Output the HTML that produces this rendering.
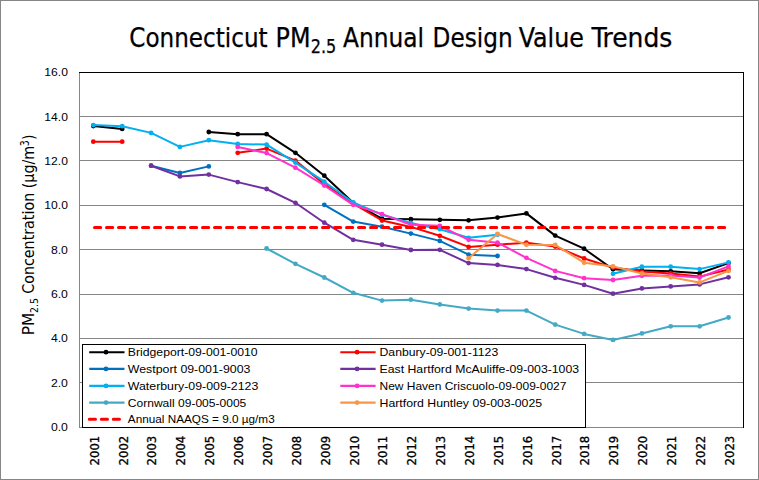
<!DOCTYPE html>
<html lang="en"><head><meta charset="utf-8"><title>Connecticut PM2.5 Annual Design Value Trends</title>
<style>html,body{margin:0;padding:0;background:#fff;}svg{display:block;}text{font-family:"Liberation Sans", Arial, sans-serif;fill:#000;}.t text{font-family:"DejaVu Sans Condensed", "Liberation Sans", sans-serif;}</style></head><body>
<svg width="759" height="480" viewBox="0 0 759 480">
<rect x="0" y="0" width="759" height="480" fill="#ffffff"/>
<rect x="0.5" y="0.5" width="758" height="479" fill="none" stroke="#868686" stroke-width="1"/>
<g stroke="#868686" stroke-width="1" shape-rendering="crispEdges">
<line x1="79.5" y1="427.5" x2="743.5" y2="427.5"/>
<line x1="79.5" y1="382.5" x2="743.5" y2="382.5"/>
<line x1="79.5" y1="338.5" x2="743.5" y2="338.5"/>
<line x1="79.5" y1="294.5" x2="743.5" y2="294.5"/>
<line x1="79.5" y1="249.5" x2="743.5" y2="249.5"/>
<line x1="79.5" y1="205.5" x2="743.5" y2="205.5"/>
<line x1="79.5" y1="160.5" x2="743.5" y2="160.5"/>
<line x1="79.5" y1="116.5" x2="743.5" y2="116.5"/>
<line x1="79.5" y1="72.5" x2="79.5" y2="427.5"/>
</g>
<path d="M79.0 72.5H743.5V428.0" fill="none" stroke="#000" stroke-width="1" shape-rendering="crispEdges"/>
<g font-size="26.67" class="t" stroke="#000" stroke-width="0.25">
<text x="129.30" y="46.6" textLength="138.30" lengthAdjust="spacingAndGlyphs">Connecticut</text>
<text x="275.60" y="46.6" textLength="35.00" lengthAdjust="spacingAndGlyphs">PM</text>
<text x="310.80" y="52.5" font-size="19.5" textLength="25.50" lengthAdjust="spacingAndGlyphs">2.5</text>
<text x="343.00" y="46.6" textLength="81.00" lengthAdjust="spacingAndGlyphs">Annual</text>
<text x="432.60" y="46.6" textLength="80.00" lengthAdjust="spacingAndGlyphs">Design</text>
<text x="518.80" y="46.6" textLength="65.00" lengthAdjust="spacingAndGlyphs">Value</text>
<text x="591.40" y="46.6" textLength="81.00" lengthAdjust="spacingAndGlyphs">Trends</text>
</g>
<g font-size="11.6" text-anchor="end">
<text x="67.9" y="431.2" textLength="17.0" lengthAdjust="spacingAndGlyphs">0.0</text>
<text x="67.9" y="386.8" textLength="17.0" lengthAdjust="spacingAndGlyphs">2.0</text>
<text x="67.9" y="342.4" textLength="17.0" lengthAdjust="spacingAndGlyphs">4.0</text>
<text x="67.9" y="298.1" textLength="17.0" lengthAdjust="spacingAndGlyphs">6.0</text>
<text x="67.9" y="253.7" textLength="17.0" lengthAdjust="spacingAndGlyphs">8.0</text>
<text x="67.9" y="209.3" textLength="23.6" lengthAdjust="spacingAndGlyphs">10.0</text>
<text x="67.9" y="165.0" textLength="23.6" lengthAdjust="spacingAndGlyphs">12.0</text>
<text x="67.9" y="120.6" textLength="23.6" lengthAdjust="spacingAndGlyphs">14.0</text>
<text x="67.9" y="76.2" textLength="23.6" lengthAdjust="spacingAndGlyphs">16.0</text>
</g>
<g font-size="12.5" class="t" stroke="#000" stroke-width="0.3">
<text transform="translate(98.6 465.4) rotate(-90)" textLength="29.6" lengthAdjust="spacingAndGlyphs">2001</text>
<text transform="translate(127.5 465.4) rotate(-90)" textLength="29.6" lengthAdjust="spacingAndGlyphs">2002</text>
<text transform="translate(156.4 465.4) rotate(-90)" textLength="29.6" lengthAdjust="spacingAndGlyphs">2003</text>
<text transform="translate(185.2 465.4) rotate(-90)" textLength="29.6" lengthAdjust="spacingAndGlyphs">2004</text>
<text transform="translate(214.1 465.4) rotate(-90)" textLength="29.6" lengthAdjust="spacingAndGlyphs">2005</text>
<text transform="translate(243.0 465.4) rotate(-90)" textLength="29.6" lengthAdjust="spacingAndGlyphs">2006</text>
<text transform="translate(271.9 465.4) rotate(-90)" textLength="29.6" lengthAdjust="spacingAndGlyphs">2007</text>
<text transform="translate(300.7 465.4) rotate(-90)" textLength="29.6" lengthAdjust="spacingAndGlyphs">2008</text>
<text transform="translate(329.6 465.4) rotate(-90)" textLength="29.6" lengthAdjust="spacingAndGlyphs">2009</text>
<text transform="translate(358.5 465.4) rotate(-90)" textLength="29.6" lengthAdjust="spacingAndGlyphs">2010</text>
<text transform="translate(387.3 465.4) rotate(-90)" textLength="29.6" lengthAdjust="spacingAndGlyphs">2011</text>
<text transform="translate(416.2 465.4) rotate(-90)" textLength="29.6" lengthAdjust="spacingAndGlyphs">2012</text>
<text transform="translate(445.1 465.4) rotate(-90)" textLength="29.6" lengthAdjust="spacingAndGlyphs">2013</text>
<text transform="translate(473.9 465.4) rotate(-90)" textLength="29.6" lengthAdjust="spacingAndGlyphs">2014</text>
<text transform="translate(502.8 465.4) rotate(-90)" textLength="29.6" lengthAdjust="spacingAndGlyphs">2015</text>
<text transform="translate(531.7 465.4) rotate(-90)" textLength="29.6" lengthAdjust="spacingAndGlyphs">2016</text>
<text transform="translate(560.5 465.4) rotate(-90)" textLength="29.6" lengthAdjust="spacingAndGlyphs">2017</text>
<text transform="translate(589.4 465.4) rotate(-90)" textLength="29.6" lengthAdjust="spacingAndGlyphs">2018</text>
<text transform="translate(618.3 465.4) rotate(-90)" textLength="29.6" lengthAdjust="spacingAndGlyphs">2019</text>
<text transform="translate(647.2 465.4) rotate(-90)" textLength="29.6" lengthAdjust="spacingAndGlyphs">2020</text>
<text transform="translate(676.0 465.4) rotate(-90)" textLength="29.6" lengthAdjust="spacingAndGlyphs">2021</text>
<text transform="translate(704.9 465.4) rotate(-90)" textLength="29.6" lengthAdjust="spacingAndGlyphs">2022</text>
<text transform="translate(733.8 465.4) rotate(-90)" textLength="29.6" lengthAdjust="spacingAndGlyphs">2023</text>
</g>
<g transform="translate(34.2 334.2) rotate(-90)" font-size="16" class="t">
<text x="-1" y="0" textLength="22.5" lengthAdjust="spacingAndGlyphs">PM</text>
<text x="21.3" y="4.1" font-size="11.3" textLength="14.9" lengthAdjust="spacingAndGlyphs">2.5</text>
<text x="40.4" y="0" textLength="148" lengthAdjust="spacingAndGlyphs">Concentration (µg/m</text>
<text x="187.9" y="-5" font-size="11.5" textLength="6" lengthAdjust="spacingAndGlyphs">3</text>
<text x="194.3" y="0" textLength="5.5" lengthAdjust="spacingAndGlyphs">)</text>
</g>
<path d="M93.3 126.0 L122.2 128.9 M208.8 132.0 L237.7 134.2 L266.6 134.2 L295.4 152.8 L324.3 175.7 L353.2 202.8 L382.0 218.7 L410.9 219.2 L439.8 219.8 L468.6 220.3 L497.5 217.6 L526.4 213.4 L555.2 235.6 L584.1 248.7 L613.0 269.3 L641.9 270.4 L670.7 271.3 L699.6 273.3 L728.5 263.1" fill="none" stroke="#000000" stroke-width="2.00" stroke-linejoin="round" stroke-linecap="round"/>
<g fill="#000000"><circle cx="93.3" cy="126.0" r="2.40"/><circle cx="122.2" cy="128.9" r="2.40"/><circle cx="208.8" cy="132.0" r="2.40"/><circle cx="237.7" cy="134.2" r="2.40"/><circle cx="266.6" cy="134.2" r="2.40"/><circle cx="295.4" cy="152.8" r="2.40"/><circle cx="324.3" cy="175.7" r="2.40"/><circle cx="353.2" cy="202.8" r="2.40"/><circle cx="382.0" cy="218.7" r="2.40"/><circle cx="410.9" cy="219.2" r="2.40"/><circle cx="439.8" cy="219.8" r="2.40"/><circle cx="468.6" cy="220.3" r="2.40"/><circle cx="497.5" cy="217.6" r="2.40"/><circle cx="526.4" cy="213.4" r="2.40"/><circle cx="555.2" cy="235.6" r="2.40"/><circle cx="584.1" cy="248.7" r="2.40"/><circle cx="613.0" cy="269.3" r="2.40"/><circle cx="641.9" cy="270.4" r="2.40"/><circle cx="670.7" cy="271.3" r="2.40"/><circle cx="699.6" cy="273.3" r="2.40"/><circle cx="728.5" cy="263.1" r="2.40"/></g>
<path d="M93.3 141.7 L122.2 141.7 M237.7 152.8 L266.6 148.6 L295.4 160.6 L324.3 184.1 L353.2 203.7 L382.0 220.5 L410.9 226.9 L439.8 235.8 L468.6 246.9 L497.5 244.7 L526.4 242.7 L555.2 246.5 L584.1 258.5 L613.0 267.6 L641.9 271.5 L670.7 273.5 L699.6 276.6 L728.5 269.5" fill="none" stroke="#FF0000" stroke-width="2.00" stroke-linejoin="round" stroke-linecap="round"/>
<g fill="#FF0000"><circle cx="93.3" cy="141.7" r="2.40"/><circle cx="122.2" cy="141.7" r="2.40"/><circle cx="237.7" cy="152.8" r="2.40"/><circle cx="266.6" cy="148.6" r="2.40"/><circle cx="295.4" cy="160.6" r="2.40"/><circle cx="324.3" cy="184.1" r="2.40"/><circle cx="353.2" cy="203.7" r="2.40"/><circle cx="382.0" cy="220.5" r="2.40"/><circle cx="410.9" cy="226.9" r="2.40"/><circle cx="439.8" cy="235.8" r="2.40"/><circle cx="468.6" cy="246.9" r="2.40"/><circle cx="497.5" cy="244.7" r="2.40"/><circle cx="526.4" cy="242.7" r="2.40"/><circle cx="555.2" cy="246.5" r="2.40"/><circle cx="584.1" cy="258.5" r="2.40"/><circle cx="613.0" cy="267.6" r="2.40"/><circle cx="641.9" cy="271.5" r="2.40"/><circle cx="670.7" cy="273.5" r="2.40"/><circle cx="699.6" cy="276.6" r="2.40"/><circle cx="728.5" cy="269.5" r="2.40"/></g>
<path d="M151.1 165.7 L179.9 173.0 L208.8 166.4 M324.3 204.8 L353.2 221.6 L382.0 226.7 L410.9 233.6 L439.8 240.9 L468.6 254.7 L497.5 256.0" fill="none" stroke="#0070C0" stroke-width="2.00" stroke-linejoin="round" stroke-linecap="round"/>
<g fill="#0070C0"><circle cx="151.1" cy="165.7" r="2.40"/><circle cx="179.9" cy="173.0" r="2.40"/><circle cx="208.8" cy="166.4" r="2.40"/><circle cx="324.3" cy="204.8" r="2.40"/><circle cx="353.2" cy="221.6" r="2.40"/><circle cx="382.0" cy="226.7" r="2.40"/><circle cx="410.9" cy="233.6" r="2.40"/><circle cx="439.8" cy="240.9" r="2.40"/><circle cx="468.6" cy="254.7" r="2.40"/><circle cx="497.5" cy="256.0" r="2.40"/></g>
<path d="M151.1 165.7 L179.9 176.4 L208.8 174.6 L237.7 182.1 L266.6 189.0 L295.4 202.8 L324.3 222.7 L353.2 239.8 L382.0 244.7 L410.9 250.0 L439.8 249.8 L468.6 263.1 L497.5 264.9 L526.4 269.1 L555.2 277.8 L584.1 284.9 L613.0 293.7 L641.9 288.4 L670.7 286.4 L699.6 284.4 L728.5 277.3" fill="none" stroke="#7030A0" stroke-width="2.00" stroke-linejoin="round" stroke-linecap="round"/>
<g fill="#7030A0"><circle cx="151.1" cy="165.7" r="2.40"/><circle cx="179.9" cy="176.4" r="2.40"/><circle cx="208.8" cy="174.6" r="2.40"/><circle cx="237.7" cy="182.1" r="2.40"/><circle cx="266.6" cy="189.0" r="2.40"/><circle cx="295.4" cy="202.8" r="2.40"/><circle cx="324.3" cy="222.7" r="2.40"/><circle cx="353.2" cy="239.8" r="2.40"/><circle cx="382.0" cy="244.7" r="2.40"/><circle cx="410.9" cy="250.0" r="2.40"/><circle cx="439.8" cy="249.8" r="2.40"/><circle cx="468.6" cy="263.1" r="2.40"/><circle cx="497.5" cy="264.9" r="2.40"/><circle cx="526.4" cy="269.1" r="2.40"/><circle cx="555.2" cy="277.8" r="2.40"/><circle cx="584.1" cy="284.9" r="2.40"/><circle cx="613.0" cy="293.7" r="2.40"/><circle cx="641.9" cy="288.4" r="2.40"/><circle cx="670.7" cy="286.4" r="2.40"/><circle cx="699.6" cy="284.4" r="2.40"/><circle cx="728.5" cy="277.3" r="2.40"/></g>
<path d="M93.3 125.1 L122.2 126.2 L151.1 132.9 L179.9 146.9 L208.8 140.2 L237.7 144.0 L266.6 144.6 L295.4 162.6 L324.3 181.7 L353.2 202.5 L382.0 214.7 L410.9 223.0 L439.8 229.2 L468.6 237.8 L497.5 234.7 M613.0 273.8 L641.9 266.7 L670.7 266.7 L699.6 269.1 L728.5 262.4" fill="none" stroke="#00B0F0" stroke-width="2.00" stroke-linejoin="round" stroke-linecap="round"/>
<g fill="#00B0F0"><circle cx="93.3" cy="125.1" r="2.40"/><circle cx="122.2" cy="126.2" r="2.40"/><circle cx="151.1" cy="132.9" r="2.40"/><circle cx="179.9" cy="146.9" r="2.40"/><circle cx="208.8" cy="140.2" r="2.40"/><circle cx="237.7" cy="144.0" r="2.40"/><circle cx="266.6" cy="144.6" r="2.40"/><circle cx="295.4" cy="162.6" r="2.40"/><circle cx="324.3" cy="181.7" r="2.40"/><circle cx="353.2" cy="202.5" r="2.40"/><circle cx="382.0" cy="214.7" r="2.40"/><circle cx="410.9" cy="223.0" r="2.40"/><circle cx="439.8" cy="229.2" r="2.40"/><circle cx="468.6" cy="237.8" r="2.40"/><circle cx="497.5" cy="234.7" r="2.40"/><circle cx="613.0" cy="273.8" r="2.40"/><circle cx="641.9" cy="266.7" r="2.40"/><circle cx="670.7" cy="266.7" r="2.40"/><circle cx="699.6" cy="269.1" r="2.40"/><circle cx="728.5" cy="262.4" r="2.40"/></g>
<path d="M237.7 146.9 L266.6 153.1 L295.4 167.7 L324.3 185.5 L353.2 204.8 L382.0 214.1 L410.9 224.7 L439.8 225.8 L468.6 239.8 L497.5 242.7 L526.4 257.8 L555.2 270.9 L584.1 278.2 L613.0 280.0 L641.9 275.8 L670.7 275.5 L699.6 277.5 L728.5 266.4" fill="none" stroke="#FF33CC" stroke-width="2.00" stroke-linejoin="round" stroke-linecap="round"/>
<g fill="#FF33CC"><circle cx="237.7" cy="146.9" r="2.40"/><circle cx="266.6" cy="153.1" r="2.40"/><circle cx="295.4" cy="167.7" r="2.40"/><circle cx="324.3" cy="185.5" r="2.40"/><circle cx="353.2" cy="204.8" r="2.40"/><circle cx="382.0" cy="214.1" r="2.40"/><circle cx="410.9" cy="224.7" r="2.40"/><circle cx="439.8" cy="225.8" r="2.40"/><circle cx="468.6" cy="239.8" r="2.40"/><circle cx="497.5" cy="242.7" r="2.40"/><circle cx="526.4" cy="257.8" r="2.40"/><circle cx="555.2" cy="270.9" r="2.40"/><circle cx="584.1" cy="278.2" r="2.40"/><circle cx="613.0" cy="280.0" r="2.40"/><circle cx="641.9" cy="275.8" r="2.40"/><circle cx="670.7" cy="275.5" r="2.40"/><circle cx="699.6" cy="277.5" r="2.40"/><circle cx="728.5" cy="266.4" r="2.40"/></g>
<path d="M266.6 248.5 L295.4 263.8 L324.3 277.5 L353.2 292.8 L382.0 300.6 L410.9 299.7 L439.8 304.4 L468.6 308.6 L497.5 310.6 L526.4 310.6 L555.2 324.6 L584.1 333.9 L613.0 339.9 L641.9 333.4 L670.7 326.3 L699.6 326.3 L728.5 317.5" fill="none" stroke="#43A9C5" stroke-width="2.00" stroke-linejoin="round" stroke-linecap="round"/>
<g fill="#43A9C5"><circle cx="266.6" cy="248.5" r="2.40"/><circle cx="295.4" cy="263.8" r="2.40"/><circle cx="324.3" cy="277.5" r="2.40"/><circle cx="353.2" cy="292.8" r="2.40"/><circle cx="382.0" cy="300.6" r="2.40"/><circle cx="410.9" cy="299.7" r="2.40"/><circle cx="439.8" cy="304.4" r="2.40"/><circle cx="468.6" cy="308.6" r="2.40"/><circle cx="497.5" cy="310.6" r="2.40"/><circle cx="526.4" cy="310.6" r="2.40"/><circle cx="555.2" cy="324.6" r="2.40"/><circle cx="584.1" cy="333.9" r="2.40"/><circle cx="613.0" cy="339.9" r="2.40"/><circle cx="641.9" cy="333.4" r="2.40"/><circle cx="670.7" cy="326.3" r="2.40"/><circle cx="699.6" cy="326.3" r="2.40"/><circle cx="728.5" cy="317.5" r="2.40"/></g>
<path d="M468.6 258.2 L497.5 234.0 L526.4 244.7 L555.2 244.9 L584.1 262.7 L613.0 266.4 L641.9 273.5 L670.7 277.3 L699.6 282.4 L728.5 270.9" fill="none" stroke="#F79646" stroke-width="2.00" stroke-linejoin="round" stroke-linecap="round"/>
<g fill="#F79646"><circle cx="468.6" cy="258.2" r="2.40"/><circle cx="497.5" cy="234.0" r="2.40"/><circle cx="526.4" cy="244.7" r="2.40"/><circle cx="555.2" cy="244.9" r="2.40"/><circle cx="584.1" cy="262.7" r="2.40"/><circle cx="613.0" cy="266.4" r="2.40"/><circle cx="641.9" cy="273.5" r="2.40"/><circle cx="670.7" cy="277.3" r="2.40"/><circle cx="699.6" cy="282.4" r="2.40"/><circle cx="728.5" cy="270.9" r="2.40"/></g>
<line x1="94.5" y1="227.6" x2="727.5" y2="227.6" stroke="#FF0000" stroke-width="3" stroke-dasharray="6.2 5.8" stroke-linecap="round"/>
<rect x="82.5" y="344.5" width="503" height="83" fill="#fff" stroke="#000" stroke-width="1" shape-rendering="crispEdges"/>
<g font-size="11.4">
<line x1="89.2" y1="352.2" x2="124.5" y2="352.2" stroke="#000000" stroke-width="2.1"/>
<circle cx="106.0" cy="352.2" r="2.4" fill="#000000"/>
<text x="127.8" y="356.2" textLength="129.8" lengthAdjust="spacingAndGlyphs">Bridgeport-09-001-0010</text>
<line x1="340.3" y1="352.2" x2="375.6" y2="352.2" stroke="#FF0000" stroke-width="2.1"/>
<circle cx="357.1" cy="352.2" r="2.4" fill="#FF0000"/>
<text x="379.5" y="356.2" textLength="118.7" lengthAdjust="spacingAndGlyphs">Danbury-09-001-1123</text>
<line x1="89.2" y1="368.9" x2="124.5" y2="368.9" stroke="#0070C0" stroke-width="2.1"/>
<circle cx="106.0" cy="368.9" r="2.4" fill="#0070C0"/>
<text x="127.8" y="372.9" textLength="122.6" lengthAdjust="spacingAndGlyphs">Westport 09-001-9003</text>
<line x1="340.3" y1="368.9" x2="375.6" y2="368.9" stroke="#7030A0" stroke-width="2.1"/>
<circle cx="357.1" cy="368.9" r="2.4" fill="#7030A0"/>
<text x="379.5" y="372.9" textLength="199.6" lengthAdjust="spacingAndGlyphs">East Hartford McAuliffe-09-003-1003</text>
<line x1="89.2" y1="385.9" x2="124.5" y2="385.9" stroke="#00B0F0" stroke-width="2.1"/>
<circle cx="106.0" cy="385.9" r="2.4" fill="#00B0F0"/>
<text x="127.8" y="389.9" textLength="130.5" lengthAdjust="spacingAndGlyphs">Waterbury-09-009-2123</text>
<line x1="340.3" y1="385.9" x2="375.6" y2="385.9" stroke="#FF33CC" stroke-width="2.1"/>
<circle cx="357.1" cy="385.9" r="2.4" fill="#FF33CC"/>
<text x="379.5" y="389.9" textLength="186.9" lengthAdjust="spacingAndGlyphs">New Haven Criscuolo-09-009-0027</text>
<line x1="89.2" y1="402.6" x2="124.5" y2="402.6" stroke="#43A9C5" stroke-width="2.1"/>
<circle cx="106.0" cy="402.6" r="2.4" fill="#43A9C5"/>
<text x="127.8" y="406.6" textLength="118.5" lengthAdjust="spacingAndGlyphs">Cornwall 09-005-0005</text>
<line x1="340.3" y1="402.6" x2="375.6" y2="402.6" stroke="#F79646" stroke-width="2.1"/>
<circle cx="357.1" cy="402.6" r="2.4" fill="#F79646"/>
<text x="379.5" y="406.6" textLength="162.6" lengthAdjust="spacingAndGlyphs">Hartford Huntley 09-003-0025</text>
<line x1="89.3" y1="419.3" x2="119.7" y2="419.3" stroke="#FF0000" stroke-width="3" stroke-dasharray="6.2 5.8" stroke-linecap="round"/>
<text x="127.8" y="423.3" textLength="146.9" lengthAdjust="spacingAndGlyphs">Annual NAAQS = 9.0 µg/m3</text>
</g>
</svg></body></html>
